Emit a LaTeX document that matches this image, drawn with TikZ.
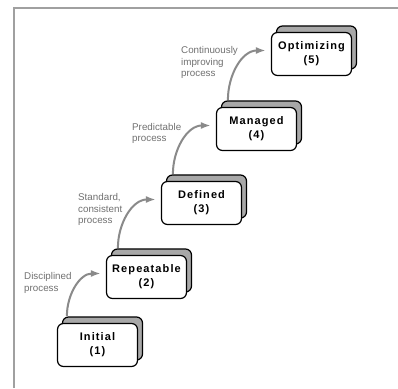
\documentclass[tikz,border=0pt]{standalone}
\usepackage{fontspec}
\setmainfont{Liberation Sans}
\newfontfamily\stagefont[LetterSpace=10]{Liberation Sans}
\usetikzlibrary{shadows, arrows.meta}

\definecolor{framegray}{HTML}{A0A0A0}
\definecolor{flowgray}{HTML}{8A8A8A}
\definecolor{notegray}{HTML}{707070}
\definecolor{backgray}{HTML}{A8A8A8}

\begin{document}
\begin{tikzpicture}[x=1pt, y=1pt,
		stage/.style={draw, line width=1.2pt, fill=white, rounded corners=6pt,
			minimum width=80pt, minimum height=43pt, inner sep=0pt, align=center,
			font=\stagefont\bfseries\fontsize{11}{14}\selectfont,
			copy shadow={shadow xshift=5pt, shadow yshift=6.5pt, fill=backgray, draw=black, line width=1.2pt}},
		flow/.style={flowgray, line width=2pt, -{Latex[length=10pt, width=7pt]}, out=90, in=180},
		note/.style={notegray, align=left, inner sep=0pt, anchor=base west,
			font=\fontsize{9.8}{11.8}\selectfont}]
		\useasboundingbox (0,0) rectangle (398,388);

		\begin{scope}
			\draw [framegray, line width=1.5pt] (14,0) -- (14,380) -- (398,380);
		\end{scope}

		\begin{scope}
			\node [stage] (init) at (97.5,43) {Initial\\(1)};
			\node [stage] (rep) at (146.5,111) {Repeatable\\(2)};
			\node [stage] (def) at (201.5,185) {Defined\\(3)};
			\node [stage] (man) at (256.5,259) {Managed\\(4)};
			\node [stage] (opt) at (311.5,334) {Optimizing\\(5)};
		\end{scope}

		\begin{scope}
			\draw [flow] ([xshift=10pt, yshift=7pt]init.north west) to ([xshift=-5pt, yshift=3.5pt]rep.west);
			\draw [flow] ([xshift=12pt, yshift=7pt]rep.north west) to ([xshift=-5pt, yshift=3.5pt]def.west);
			\draw [flow] ([xshift=12pt, yshift=7pt]def.north west) to ([xshift=-5pt, yshift=3.5pt]man.west);
			\draw [flow] ([xshift=12pt, yshift=7pt]man.north west) to ([xshift=-5pt, yshift=3.5pt]opt.west);
		\end{scope}

		% base anchor sits on the last line
		\begin{scope}
			\node [note] (note1) at (24,97) {Disciplined\\process};
			\node [note] (note2) at (78,164) {Standard,\\consistent\\process};
			\node [note] (note3) at (132,246) {Predictable\\process};
			\node [note] (note4) at (181,311) {Continuously\\improving\\process};
		\end{scope}
	\end{tikzpicture}
\end{document}
